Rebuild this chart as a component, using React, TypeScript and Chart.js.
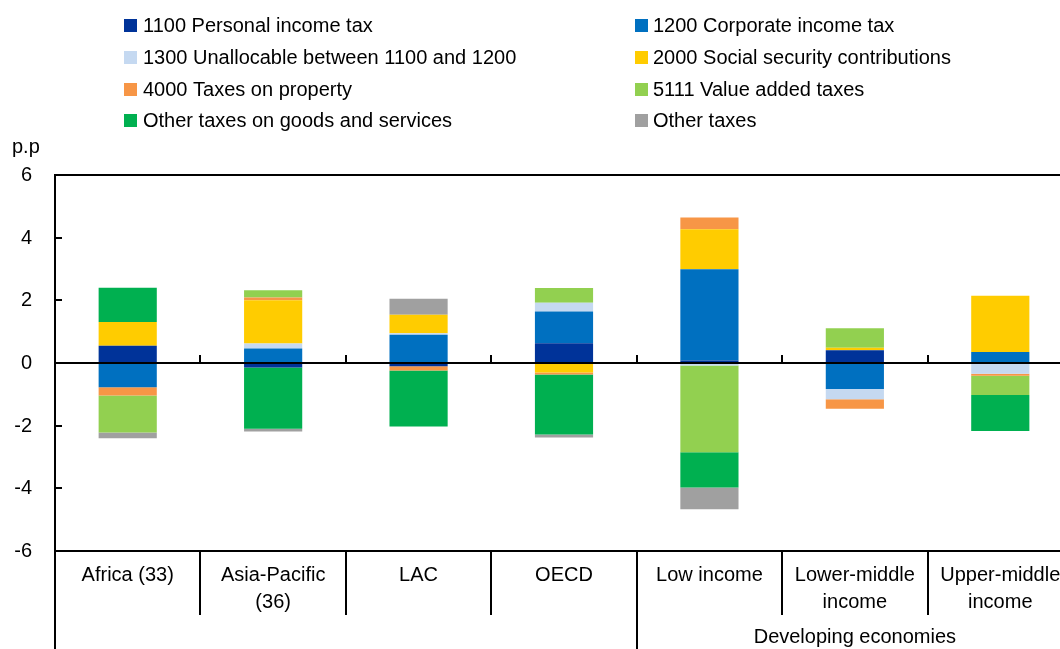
import React, { useEffect, useRef } from 'react';
import { Chart, registerables } from 'chart.js';

Chart.register(...registerables);

const FONT = '"Liberation Sans", Arial, Helvetica, sans-serif';

// Categories (multi-line labels)
const categories: string[][] = [
  ['Africa (33)'],
  ['Asia-Pacific', '(36)'],
  ['LAC'],
  ['OECD'],
  ['Low income'],
  ['Lower-middle', 'income'],
  ['Upper-middle', 'income'],
];
const groupLabel = 'Developing economies';
const groupStartIndex = 4;

// Series values (percentage points)
const pit1100 = [0.55, -0.14, -0.1, 0.63, 0.08, 0.41, 0];
const cit1200 = [-0.77, 0.46, 0.9, 1.01, 2.91, -0.83, 0.35];
const unalloc1300 = [0, 0.16, 0.05, 0.28, -0.08, -0.33, -0.34];
const ssc2000 = [0.76, 1.38, 0.59, -0.3, 1.28, 0.08, 1.8];
const property4000 = [-0.27, 0.09, -0.14, -0.07, 0.37, -0.3, -0.07];
const vat5111 = [-1.18, 0.23, 0, 0.47, -2.77, 0.62, -0.61];
const otherGoods = [1.09, -1.96, -1.79, -1.91, -1.12, 0, -1.15];
const otherTaxes = [-0.18, -0.09, 0.51, -0.1, -0.7, 0, 0];

const seriesLabels = [
  '1100 Personal income tax',
  '1200 Corporate income tax',
  '1300 Unallocable between 1100 and 1200',
  '2000 Social security contributions',
  '4000 Taxes on property',
  '5111 Value added taxes',
  'Other taxes on goods and services',
  'Other taxes',
];
const seriesColors = ['#003399', '#0070C0', '#C5D9F1', '#FFCC00', '#F79646', '#92D050', '#00B050', '#A0A0A0'];
const seriesValues = [pit1100, cit1200, unalloc1300, ssc2000, property4000, vat5111, otherGoods, otherTaxes];

const yTicks = [6, 4, 2, 0, -2, -4, -6];
const yUnit = 'p.p';

const decorPlugin = {
  id: 'decor',
  afterDraw(chart: any) {
    const { ctx, chartArea } = chart;
    const xs = chart.scales.x;
    const ys = chart.scales.y;
    const { left, right, top, bottom } = chartArea;
    const H = chart.height;
    ctx.save();
    ctx.strokeStyle = '#000';
    ctx.fillStyle = '#000';
    ctx.lineWidth = 2;
    ctx.lineCap = 'butt';

    // frame lines
    ctx.beginPath();
    ctx.moveTo(left - 1, top);
    ctx.lineTo(right, top);
    ctx.moveTo(left, top);
    ctx.lineTo(left, H);
    ctx.moveTo(left - 1, bottom);
    ctx.lineTo(right, bottom);
    const y0 = Math.round(ys.getPixelForValue(0));
    ctx.moveTo(left, y0);
    ctx.lineTo(right, y0);
    ctx.stroke();

    // category boundaries
    const n = categories.length;
    ctx.beginPath();
    for (let i = 1; i < n; i++) {
      const bx = Math.round((xs.getPixelForValue(i - 1) + xs.getPixelForValue(i)) / 2);
      ctx.moveTo(bx, y0);
      ctx.lineTo(bx, y0 - 8);
      ctx.moveTo(bx, bottom);
      ctx.lineTo(bx, i === groupStartIndex ? H : bottom + 64);
    }
    ctx.stroke();

    // y ticks (inward) and labels
    ctx.font = `20px ${FONT}`;
    ctx.textAlign = 'right';
    ctx.textBaseline = 'middle';
    ctx.beginPath();
    yTicks.forEach((t) => {
      const py = Math.round(ys.getPixelForValue(t));
      ctx.moveTo(left, py);
      ctx.lineTo(left + 7, py);
      ctx.fillText(String(t), left - 23, py);
    });
    ctx.stroke();

    ctx.textAlign = 'left';
    ctx.fillText(yUnit, 12, top - 28);

    // category labels
    ctx.textAlign = 'center';
    categories.forEach((lines, i) => {
      const cx = xs.getPixelForValue(i);
      lines.forEach((ln, j) => {
        ctx.fillText(ln, cx, bottom + 24 + j * 27);
      });
    });
    const gStart = (xs.getPixelForValue(groupStartIndex - 1) + xs.getPixelForValue(groupStartIndex)) / 2;
    ctx.fillText(groupLabel, (gStart + right) / 2, bottom + 86);

    // legend
    ctx.textAlign = 'left';
    const ds = chart.data.datasets;
    const rowY = [25, 57, 89, 120];
    ds.forEach((d: any, i: number) => {
      const col = i % 2;
      const row = Math.floor(i / 2);
      const sx = col === 0 ? 124 : 635;
      const tx = col === 0 ? 143 : 653;
      const yy = rowY[row];
      ctx.fillStyle = d.backgroundColor;
      ctx.fillRect(sx, yy - 6, 13, 13);
      ctx.fillStyle = '#000';
      ctx.fillText(d.label, tx, yy + 1);
    });

    ctx.restore();
  },
};

export default function App() {
  const ref = useRef<HTMLCanvasElement | null>(null);
  useEffect(() => {
    if (!ref.current) return;
    const chart = new Chart(ref.current, {
      type: 'bar',
      data: {
        labels: categories.map((c) => c.join(' ')),
        datasets: seriesValues.map((vals, i) => ({
          label: seriesLabels[i],
          data: vals,
          backgroundColor: seriesColors[i],
          borderWidth: 0,
          barPercentage: 0.4,
          categoryPercentage: 1.0,
        })),
      },
      options: {
        animation: false,
        responsive: false,
        devicePixelRatio: 1,
        layout: { padding: { left: 55, top: 175, right: 7, bottom: 98 } },
        plugins: { legend: { display: false }, tooltip: { enabled: false } },
        scales: {
          x: { stacked: true, display: false, offset: true },
          y: { stacked: true, display: false, min: -6, max: 6 },
        },
      },
      plugins: [decorPlugin],
    });
    return () => chart.destroy();
  }, []);
  return (
    <div style={{ position: 'fixed', left: 0, top: 0, width: 1060, height: 649, overflow: 'hidden', background: '#fff' }}>
      <canvas ref={ref} width={1080} height={649} style={{ display: 'block', width: 1080, height: 649 }} />
    </div>
  );
}
